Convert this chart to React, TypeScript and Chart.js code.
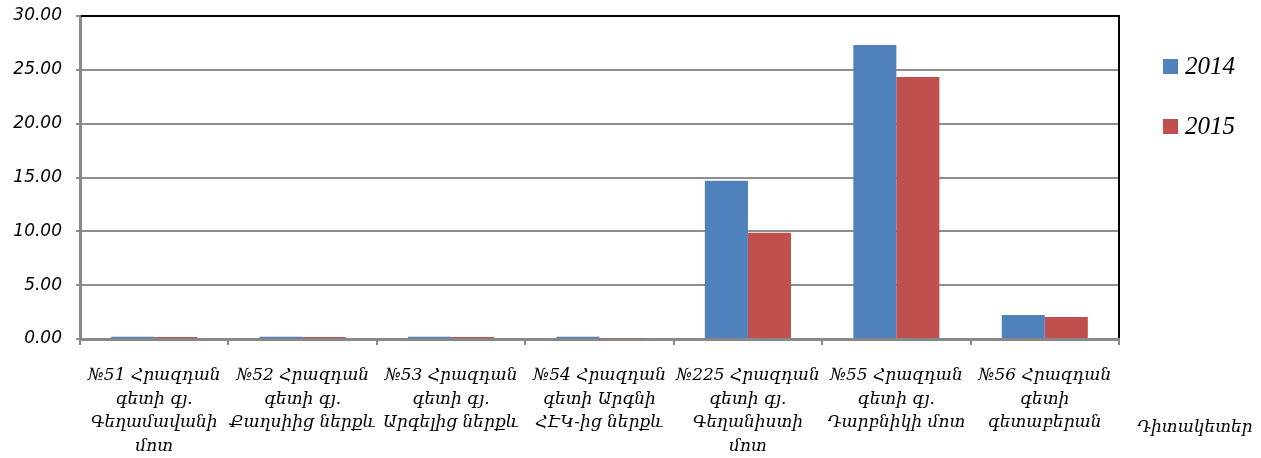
import React, { useEffect, useRef } from "react";
import { Chart, registerables } from "chart.js";

Chart.register(...registerables);

const categories: string[][] = [
  ["№51 Հրազդան", "գետի գյ.", "Գեղամավանի", "մոտ"],
  ["№52 Հրազդան", "գետի գյ.", "Քաղսիից ներքև"],
  ["№53 Հրազդան", "գետի գյ.", "Արգելից ներքև"],
  ["№54 Հրազդան", "գետի Արգնի", "ՀԷԿ-ից ներքև"],
  ["№225 Հրազդան", "գետի գյ.", "Գեղանիստի", "մոտ"],
  ["№55 Հրազդան", "գետի գյ.", "Դարբնիկի մոտ"],
  ["№56 Հրազդան", "գետի", "գետաբերան"],
];

const seriesNames = ["2014", "2015"];
const values2014 = [0.2, 0.2, 0.2, 0.2, 14.7, 27.3, 2.23];
const values2015 = [0.18, 0.18, 0.18, 0.05, 9.88, 24.33, 2.04];
const seriesColors = ["#4F81BD", "#C0504D"];

const axisTitle = "Դիտակետեր";
const yMin = 0;
const yMax = 30;
const yStep = 5;

const LABEL_FONT = '"DejaVu Serif", serif';

const decorPlugin = {
  id: "decor",
  afterDraw(chart: any) {
    const { ctx, chartArea } = chart;
    ctx.save();
    // black top & right plot border
    ctx.strokeStyle = "#000";
    ctx.lineWidth = 2;
    ctx.beginPath();
    ctx.moveTo(chartArea.left + 1, chartArea.top);
    ctx.lineTo(chartArea.right, chartArea.top);
    ctx.lineTo(chartArea.right, chartArea.bottom - 1);
    ctx.stroke();

    // legend
    const lx = chartArea.right + 44;
    const ys = [66, 126];
    chart.data.datasets.forEach((ds: any, i: number) => {
      ctx.fillStyle = ds.backgroundColor;
      ctx.fillRect(lx, ys[i] - 7, 15, 15);
      ctx.fillStyle = "#000";
      ctx.font = 'italic 25px "Liberation Serif", serif';
      ctx.textAlign = "left";
      ctx.textBaseline = "middle";
      ctx.fillText(ds.label, lx + 22, ys[i] + 1);
    });

    // x axis title
    ctx.font = `italic 17px ${LABEL_FONT}`;
    ctx.fillStyle = "#000";
    ctx.textAlign = "left";
    ctx.textBaseline = "middle";
    ctx.fillText(axisTitle, chartArea.right + 18, 428);
    ctx.restore();
  },
};

export default function App() {
  const ref = useRef<HTMLCanvasElement>(null);

  useEffect(() => {
    if (!ref.current) return;
    const chart = new Chart(ref.current, {
      type: "bar",
      data: {
        labels: categories,
        datasets: [
          {
            label: seriesNames[0],
            data: values2014,
            backgroundColor: seriesColors[0],
            categoryPercentage: 0.58,
            barPercentage: 1,
          },
          {
            label: seriesNames[1],
            data: values2015,
            backgroundColor: seriesColors[1],
            categoryPercentage: 0.58,
            barPercentage: 1,
          },
        ],
      },
      options: {
        responsive: false,
        animation: false,
        layout: { padding: { top: 16, right: 142, left: 0, bottom: 0 } },
        plugins: {
          legend: { display: false },
          tooltip: { enabled: false },
        },
        scales: {
          x: {
            afterFit: (s: any) => {
              s.height = 119;
            },
            border: { color: "#888", width: 3 },
            grid: {
              drawOnChartArea: false,
              color: "#888",
              lineWidth: 2,
              tickLength: 6,
            },
            ticks: {
              autoSkip: false,
              maxRotation: 0,
              minRotation: 0,
              padding: 19,
              color: "#000",
              font: { family: LABEL_FONT, size: 17, style: "italic", lineHeight: "23.5px" },
            },
          },
          y: {
            min: yMin,
            max: yMax,
            afterFit: (s: any) => {
              s.width = 80;
              s.paddingTop = 0;
              s.paddingBottom = 0;
            },
            border: { color: "#888", width: 3 },
            grid: {
              color: "#8e8e8e",
              lineWidth: 2,
              tickLength: 4,
            },
            ticks: {
              stepSize: yStep,
              padding: 14,
              color: "#000",
              font: { family: '"DejaVu Sans", sans-serif', size: 17, style: "italic" },
              callback: (v: any) => Number(v).toFixed(2),
            },
          },
        },
      },
      plugins: [decorPlugin],
    });
    return () => chart.destroy();
  }, []);

  return (
    <div style={{ position: "fixed", left: 0, top: 0, width: 1261, height: 458, background: "#fff" }}>
      <canvas ref={ref} width={1261} height={458} />
    </div>
  );
}
